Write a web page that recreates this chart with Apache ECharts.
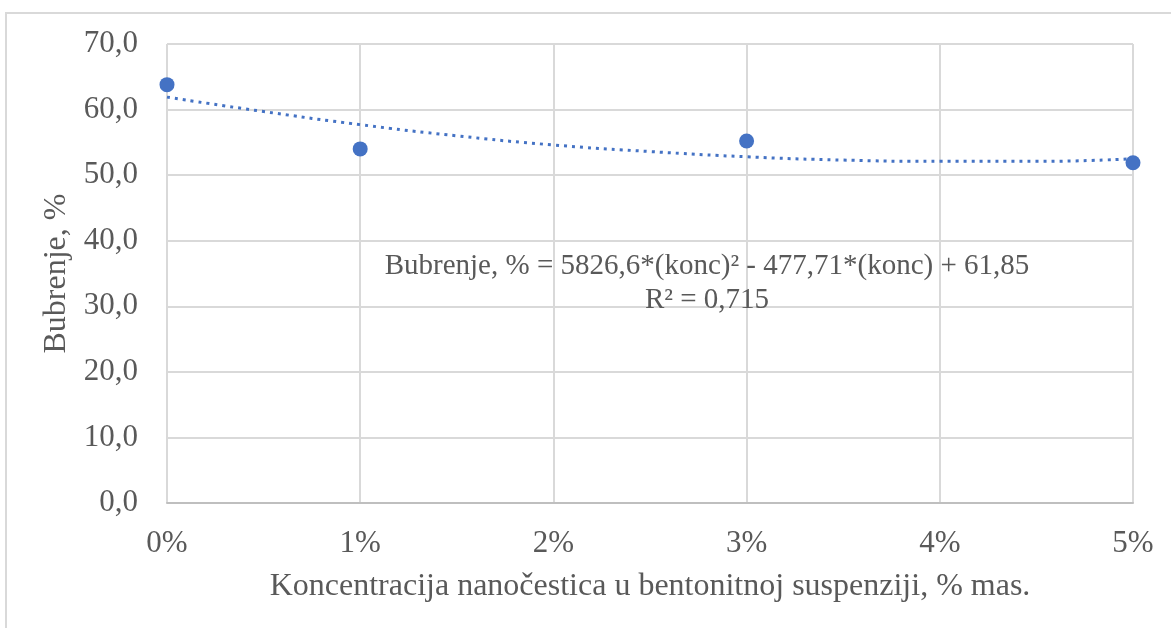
<!DOCTYPE html>
<html>
<head>
<meta charset="utf-8">
<script src="https://cdn.jsdelivr.net/npm/echarts@6/dist/echarts.min.js"></script>
<style>
html,body{margin:0;padding:0;background:#fff;}
#c{width:1171px;height:628px;}
</style>
</head>
<body>
<div id="c"></div>
<script>
// Measured points (concentration %, swelling %)
var concentrations = [0, 1, 3, 5];
var swelling = [63.8, 54.0, 55.2, 51.9];
// Trendline values
var trendX = [0, 0.5, 1, 1.5, 2, 2.5, 3, 3.5, 4, 4.5, 5];
var trendY = [61.9, 59.7, 57.7, 56.0, 54.6, 53.6, 52.8, 52.3, 52.1, 52.1, 52.5];
var yTicks = [0, 10, 20, 30, 40, 50, 60, 70];
var xTitle = 'Koncentracija nanočestica u bentonitnoj suspenziji, % mas.';
var yTitle = 'Bubrenje, %';
var equation = 'Bubrenje, % = 5826,6*(konc)² - 477,71*(konc) + 61,85';
var rSquared = 'R² = 0,715';

var FONT = '"Liberation Serif", "Times New Roman", serif';
var TXT = '#595959';
var BLUE = '#4472C4';

var chart = echarts.init(document.getElementById('c'));
chart.setOption({
  animation: false,
  backgroundColor: '#fff',
  grid: {left: 167, right: 38, top: 44, bottom: 125, containLabel: false},
  xAxis: {
    type: 'value', min: 0, max: 5, interval: 1,
    name: xTitle, nameLocation: 'middle', nameGap: 68,
    nameTextStyle: {fontFamily: FONT, fontSize: 32, color: TXT},
    axisLine: {show: true, lineStyle: {color: '#bfbfbf', width: 2}},
    axisTick: {show: false},
    axisLabel: {formatter: '{value}%', fontFamily: FONT, fontSize: 31, color: TXT, margin: 25},
    splitLine: {show: true, lineStyle: {color: '#d9d9d9', width: 2}}
  },
  yAxis: {
    type: 'value', min: yTicks[0], max: yTicks[yTicks.length - 1], interval: 10,
    name: yTitle, nameLocation: 'middle', nameGap: 89,
    nameTextStyle: {fontFamily: FONT, fontSize: 32, color: TXT},
    axisLine: {show: false},
    axisTick: {show: false},
    axisLabel: {formatter: function (v) { return v.toFixed(1).replace('.', ','); },
      fontFamily: FONT, fontSize: 31, color: TXT, margin: 29},
    splitLine: {show: true, lineStyle: {color: '#d9d9d9', width: 2}}
  },
  series: [
    {
      type: 'line', smooth: true, symbol: 'none',
      data: trendX.map(function (x, i) { return [x, trendY[i]]; }),
      lineStyle: {color: BLUE, width: 3, type: [3, 5]},
      z: 2
    },
    {
      type: 'scatter', symbolSize: 15,
      data: concentrations.map(function (x, i) { return [x, swelling[i]]; }),
      itemStyle: {color: BLUE, opacity: 1},
      z: 3
    }
  ],
  graphic: [
    {type: 'rect', shape: {x: 6, y: 13, width: 1200, height: 700}, style: {fill: 'none', stroke: '#d9d9d9', lineWidth: 2}, z: -10, silent: true},
    {type: 'text', x: 707, y: 266, z: 10,
      style: {text: equation, font: '29px ' + FONT, fill: TXT, align: 'center', verticalAlign: 'middle'}
    },
    {type: 'text', x: 707, y: 300, z: 10,
      style: {text: rSquared, font: '29px ' + FONT, fill: TXT, align: 'center', verticalAlign: 'middle'}
    }
  ]
});
</script>
</body>
</html>
